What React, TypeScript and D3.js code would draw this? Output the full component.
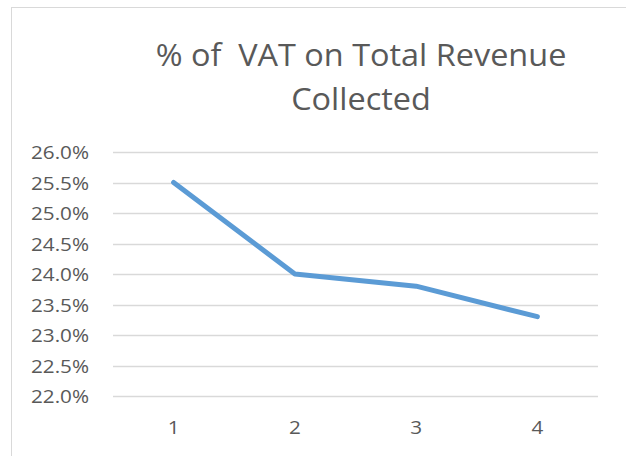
import React, { useEffect, useRef } from 'react'
import * as d3 from 'd3'

const categories = ['1', '2', '3', '4']
const vatShare = [25.5, 24.0, 23.8, 23.3]
const yTicks = [22.0, 22.5, 23.0, 23.5, 24.0, 24.5, 25.0, 25.5, 26.0]
const titleLines = ['% of  VAT on Total Revenue', 'Collected']

const W = 626
const H = 456
const SX = 1.15 // the picture is a bit stretched sideways

export default function App() {
  const ref = useRef<SVGSVGElement | null>(null)

  useEffect(() => {
    const svg = d3.select(ref.current)
    svg.selectAll('*').remove()

    const margin = { left: 113, right: 28, top: 152, bottom: 60 }

    const x = d3.scaleBand<string>()
      .domain(categories)
      .range([margin.left, W - margin.right])

    const y = d3.scaleLinear()
      .domain([22, 26])
      .range([H - margin.bottom, margin.top])

    // chart area border
    svg.append('rect')
      .attr('x', 11.5)
      .attr('y', 7.5)
      .attr('width', W)
      .attr('height', H)
      .attr('fill', '#fff')
      .attr('stroke', '#d9d9d9')

    // title
    svg.selectAll('text.title')
      .data(titleLines)
      .enter()
      .append('text')
      .attr('class', 'title')
      .attr('transform', (d, i) => `translate(361, ${66 + i * 44}) scale(1.03,1)`)
      .attr('text-anchor', 'middle')
      .attr('font-family', 'Open Sans')
      .attr('font-size', 31.5)
      .attr('fill', '#595959')
      .style('white-space', 'pre')
      .text(d => d)

    // gridlines
    svg.append('g')
      .selectAll('line')
      .data(yTicks)
      .enter()
      .append('line')
      .attr('x1', x.range()[0])
      .attr('x2', x.range()[1])
      .attr('y1', d => Math.round(y(d)) + 0.5)
      .attr('y2', d => Math.round(y(d)) + 0.5)
      .attr('stroke', '#d9d9d9')
      .attr('stroke-width', 1.5)

    // y labels
    svg.append('g')
      .selectAll('text')
      .data(yTicks)
      .enter()
      .append('text')
      .attr('transform', d => `translate(89, ${y(d) + 7}) scale(${SX},1)`)
      .attr('text-anchor', 'end')
      .attr('font-family', 'Open Sans')
      .attr('font-size', 18)
      .attr('fill', '#595959')
      .text(d => d3.format('.1f')(d) + '%')

    // x labels
    svg.append('g')
      .selectAll('text')
      .data(categories)
      .enter()
      .append('text')
      .attr('transform', d => `translate(${(x(d) as number) + x.bandwidth() / 2}, 434) scale(${SX},1)`)
      .attr('text-anchor', 'middle')
      .attr('font-family', 'Open Sans')
      .attr('font-size', 18)
      .attr('fill', '#595959')
      .text(d => d)

    // line
    const line = d3.line<number>()
      .x((d, i) => (x(categories[i]) as number) + x.bandwidth() / 2)
      .y(d => y(d))

    svg.append('path')
      .datum(vatShare)
      .attr('fill', 'none')
      .attr('stroke', '#5b9bd5')
      .attr('stroke-width', 5)
      .attr('stroke-linejoin', 'round')
      .attr('stroke-linecap', 'round')
      .attr('d', line)
  }, [])

  return (
    <svg ref={ref} width={W} height={H}
      style={{ position: 'absolute', left: 0, top: 0, background: '#fff' }} />
  )
}
